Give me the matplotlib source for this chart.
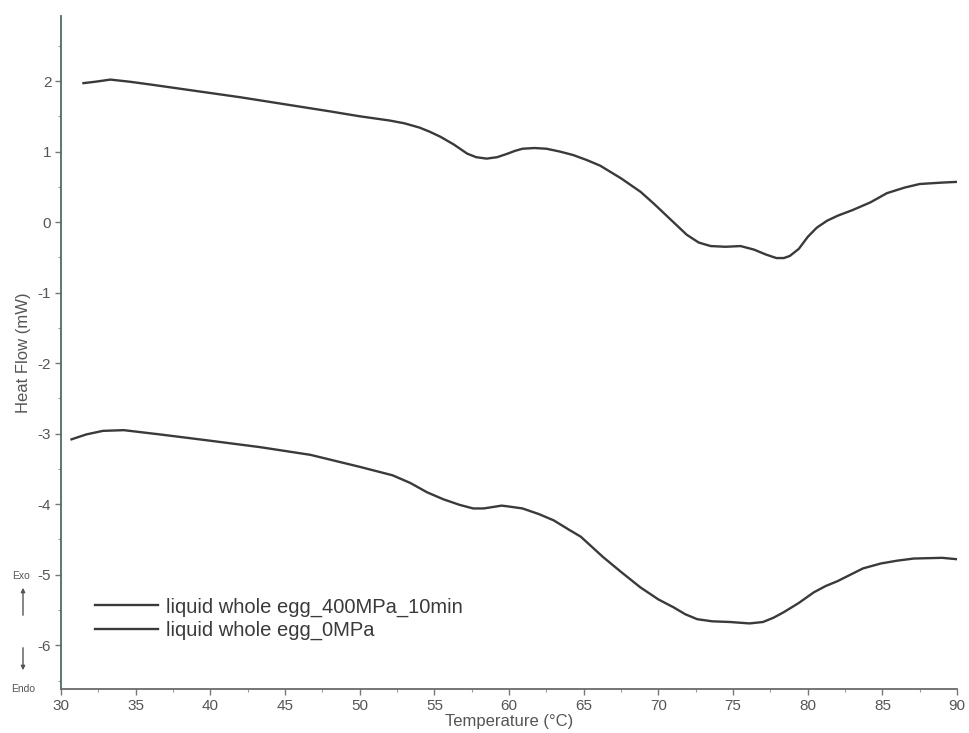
import matplotlib
matplotlib.use("Agg")
import matplotlib.pyplot as plt
from matplotlib.ticker import MultipleLocator
from matplotlib.patches import FancyArrowPatch

plt.rcParams['font.family'] = ['Liberation Sans', 'DejaVu Sans']
plt.rcParams['axes.unicode_minus'] = False

# Upper curve (legend: 400MPa_10min)
t_400 = [31.5, 32.3, 33.3, 34.6, 36.0, 38.0, 40.0, 42.0, 45.0, 48.0, 50.0, 52.0, 53.0,
         54.0, 54.7, 55.4, 56.3, 57.2, 57.8, 58.5, 59.2, 59.9, 60.4, 60.9, 61.7, 62.5,
         63.4, 64.3, 65.2, 66.1, 67.5, 68.8, 69.7, 70.6, 71.3, 71.9, 72.7, 73.5, 74.5,
         75.5, 76.4, 77.2, 77.9, 78.4, 78.8, 79.4, 80.0, 80.6, 81.3, 82.0, 83.0, 84.2,
         85.3, 86.5, 87.5, 89.0, 90.0]
hf_400 = [1.97, 1.99, 2.02, 1.99, 1.95, 1.89, 1.83, 1.77, 1.67, 1.57, 1.50, 1.44, 1.40,
          1.34, 1.28, 1.21, 1.10, 0.97, 0.92, 0.90, 0.92, 0.97, 1.01, 1.04, 1.05, 1.04,
          1.00, 0.95, 0.88, 0.80, 0.62, 0.43, 0.26, 0.08, -0.06, -0.18, -0.29, -0.34, -0.35,
          -0.34, -0.39, -0.46, -0.51, -0.51, -0.48, -0.38, -0.21, -0.08, 0.02, 0.09, 0.17, 0.28,
          0.41, 0.49, 0.54, 0.56, 0.57]

# Lower curve (legend: 0MPa)
t_0 = [30.7, 31.7, 32.8, 34.2, 36.6, 38.5, 40.0, 43.3, 46.7, 50.0, 52.2, 53.4, 54.5,
       55.6, 56.7, 57.6, 58.3, 58.9, 59.5, 59.9, 60.9, 62.0, 63.0, 64.0, 64.8, 66.3,
       67.5, 68.8, 70.0, 71.0, 71.8, 72.6, 73.6, 74.8, 76.1, 77.0, 77.7, 78.4, 79.4,
       80.4, 81.2, 82.0, 83.7, 84.9, 86.0, 87.1, 89.0, 90.0]
hf_0 = [-3.08, -3.01, -2.96, -2.95, -3.01, -3.06, -3.10, -3.19, -3.30, -3.47, -3.59, -3.70, -3.83,
        -3.93, -4.01, -4.06, -4.06, -4.04, -4.02, -4.03, -4.06, -4.14, -4.23, -4.36, -4.46, -4.75,
        -4.96, -5.18, -5.35, -5.46, -5.56, -5.63, -5.66, -5.67, -5.69, -5.67, -5.61, -5.53, -5.40,
        -5.25, -5.16, -5.09, -4.91, -4.84, -4.80, -4.77, -4.76, -4.78]

labels = ["liquid whole egg_400MPa_10min", "liquid whole egg_0MPa"]

fig = plt.figure(figsize=(9.69, 7.33), dpi=100)
ax = fig.add_axes([0.063, 0.060, 0.9247, 0.918])

line_c = '#3a3a3a'
ax.plot(t_400, hf_400, color=line_c, lw=1.7, label=labels[0])
ax.plot(t_0, hf_0, color=line_c, lw=1.7, label=labels[1])

ax.set_xlim(30, 90)
ax.set_ylim(-6.62, 2.92)
ax.xaxis.set_major_locator(MultipleLocator(5))
ax.xaxis.set_minor_locator(MultipleLocator(2.5))
ax.yaxis.set_major_locator(MultipleLocator(1))
ax.yaxis.set_minor_locator(MultipleLocator(0.5))

for s in ['top', 'right']:
    ax.spines[s].set_visible(False)
ax.spines['left'].set_color('#4d6e60')
ax.spines['left'].set_linewidth(1.3)
ax.spines['bottom'].set_color('#6a6a6a')
ax.spines['bottom'].set_linewidth(1.3)

tc = '#555555'
ax.tick_params(axis='both', which='major', direction='out', length=4, width=1,
               colors='#777777', labelcolor=tc, labelsize=11, pad=3)
ax.tick_params(axis='both', which='minor', direction='out', length=2, width=0.8,
               colors='#999999')

ax.set_ylabel("Heat Flow (mW)", color=tc, fontsize=12, labelpad=5)
ax.set_xlabel("Temperature (°C)", color=tc, fontsize=12, labelpad=1)

leg = ax.legend(loc='lower left', bbox_to_anchor=(0.018, 0.046), frameon=False,
                fontsize=14.5, handlelength=3.1, labelspacing=0.2, handletextpad=0.42)
for txt in leg.get_texts():
    txt.set_color('#3a3a3a')

# Exo / Endo indicators
fig.text(21 / 969, 1 - 576 / 733, "Exo", fontsize=7.5, color=tc, ha='center', va='center')
fig.text(23 / 969, 1 - 689 / 733, "Endo", fontsize=7.5, color=tc, ha='center', va='center')
fig.patches.append(FancyArrowPatch(
    (23 / 969, 1 - 618 / 733), (23 / 969, 1 - 585 / 733), transform=fig.transFigure,
    arrowstyle='-|>', mutation_scale=6, color='#555555', lw=1))
fig.patches.append(FancyArrowPatch(
    (23 / 969, 1 - 645 / 733), (23 / 969, 1 - 673 / 733), transform=fig.transFigure,
    arrowstyle='-|>', mutation_scale=6, color='#555555', lw=1))

fig.savefig("out.png", dpi=100)
